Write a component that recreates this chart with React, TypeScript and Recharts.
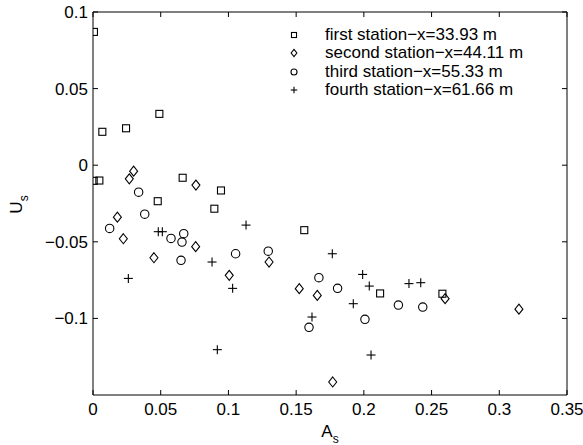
import React from 'react';
import { ScatterChart, Scatter, XAxis, YAxis, Legend, Label } from 'recharts';

const FONT = '"Liberation Sans", Arial, Helvetica, sans-serif';

const xTicks = [0, 0.05, 0.1, 0.15, 0.2, 0.25, 0.3, 0.35];
const yTicks = [-0.1, -0.05, 0, 0.05, 0.1];
const xTickLabels = ['0', '0.05', '0.1', '0.15', '0.2', '0.25', '0.3', '0.35'];
const yTickLabels = ['\u22120.1', '\u22120.05', '0', '0.05', '0.1'];

const seriesNames = [
  'first station\u2212x=33.93 m',
  'second station\u2212x=44.11 m',
  'third station\u2212x=55.33 m',
  'fourth station\u2212x=61.66 m',
];

const firstX = [0.0007, 0.0005, 0.0047, 0.0069, 0.0244, 0.049, 0.0662, 0.0478, 0.0945, 0.0896, 0.156, 0.212, 0.258];
const firstY = [0.087, -0.0102, -0.01, 0.0218, 0.0241, 0.0335, -0.0082, -0.0235, -0.0165, -0.0284, -0.0424, -0.0837, -0.0839];

const secondX = [0.03, 0.0268, 0.076, 0.018, 0.0224, 0.045, 0.0758, 0.1006, 0.13, 0.1523, 0.1656, 0.177, 0.26, 0.3145];
const secondY = [-0.0039, -0.0089, -0.013, -0.0339, -0.048, -0.0604, -0.0532, -0.0719, -0.0632, -0.0806, -0.085, -0.1415, -0.0871, -0.094];

const thirdX = [0.0337, 0.0382, 0.0123, 0.0576, 0.067, 0.0657, 0.065, 0.1053, 0.1294, 0.1668, 0.1806, 0.2008, 0.1595, 0.2255, 0.2435];
const thirdY = [-0.0176, -0.032, -0.0413, -0.0478, -0.0447, -0.0502, -0.0621, -0.0578, -0.0561, -0.0734, -0.0804, -0.1006, -0.1058, -0.0913, -0.0926];

const fourthX = [0.0482, 0.0512, 0.0879, 0.0261, 0.1031, 0.0918, 0.113, 0.1767, 0.1991, 0.204, 0.1922, 0.1617, 0.2053, 0.2333, 0.242];
const fourthY = [-0.0434, -0.0434, -0.0632, -0.0739, -0.0804, -0.1204, -0.0391, -0.0578, -0.0713, -0.0789, -0.0904, -0.0991, -0.1239, -0.0773, -0.0767];

const toPoints = (xs: number[], ys: number[]) => xs.map((x, i) => ({ x, y: ys[i] }));

type Kind = 'square' | 'diamond' | 'circle' | 'plus';
const kinds: Kind[] = ['square', 'diamond', 'circle', 'plus'];

const Marker = ({ cx, cy, kind, s = 1 }: { cx: number; cy: number; kind: Kind; s?: number }) => {
  const st = { stroke: '#000', strokeWidth: 1.1, fill: 'none' };
  if (kind === 'square') {
    const h = 3.5 * s;
    return <rect x={cx - h} y={cy - h} width={2 * h} height={2 * h} {...st} />;
  }
  if (kind === 'diamond') {
    const w = 4 * s;
    const hh = 5 * s;
    return <polygon points={`${cx},${cy - hh} ${cx + w},${cy} ${cx},${cy + hh} ${cx - w},${cy}`} {...st} />;
  }
  if (kind === 'circle') {
    return <circle cx={cx} cy={cy} r={4.2 * s} {...st} />;
  }
  const a = 4.5 * s;
  return (
    <g {...st}>
      <line x1={cx - a} y1={cy} x2={cx + a} y2={cy} />
      <line x1={cx} y1={cy - a} x2={cx} y2={cy + a} />
    </g>
  );
};

const makeShape = (kind: Kind) => (props: any) => <Marker cx={props.cx} cy={props.cy} kind={kind} />;

const BottomTick = (props: any) => {
  const { x, y, payload } = props;
  const idx = xTicks.indexOf(payload.value);
  return (
    <g>
      <line x1={x} y1={y} x2={x} y2={y - 5} stroke="#000" strokeWidth={1} />
      <text x={x} y={y + 20} textAnchor="middle" fontSize={17} fontFamily={FONT} fill="#000">
        {idx >= 0 ? xTickLabels[idx] : String(payload.value)}
      </text>
    </g>
  );
};

const TopTick = (props: any) => {
  const { x, y } = props;
  return <line x1={x} y1={y} x2={x} y2={y + 5} stroke="#000" strokeWidth={1} />;
};

const LeftTick = (props: any) => {
  const { x, y, payload } = props;
  const idx = yTicks.indexOf(payload.value);
  return (
    <g>
      <line x1={x} y1={y} x2={x + 5} y2={y} stroke="#000" strokeWidth={1} />
      <text x={x - 5} y={y} dy="0.35em" textAnchor="end" fontSize={17} fontFamily={FONT} fill="#000">
        {idx >= 0 ? yTickLabels[idx] : String(payload.value)}
      </text>
    </g>
  );
};

const RightTick = (props: any) => {
  const { x, y } = props;
  return <line x1={x} y1={y} x2={x - 5} y2={y} stroke="#000" strokeWidth={1} />;
};

const XLabel = (props: any) => {
  const vb = props.viewBox || { x: 93, y: 395, width: 474 };
  const cx = vb.x + vb.width / 2;
  const y = vb.y + 42;
  return (
    <text x={cx} y={y} textAnchor="middle" fontSize={17} fontFamily={FONT} fill="#000">
      A<tspan dy={6} fontSize={12}>s</tspan>
    </text>
  );
};

const YLabel = (props: any) => {
  const vb = props.viewBox || { x: 0, y: 12, width: 93, height: 383 };
  const cx = 22;
  const cy = vb.y + vb.height / 2 + 1;
  return (
    <text x={cx} y={cy} transform={`rotate(-90 ${cx} ${cy})`} textAnchor="middle" fontSize={17} fontFamily={FONT} fill="#000">
      U<tspan dy={6} fontSize={12}>s</tspan>
    </text>
  );
};

const LegendContent = () => (
  <div style={{ fontFamily: FONT, fontSize: 17, color: '#000' }}>
    {seriesNames.map((name, i) => (
      <div key={name} style={{ display: 'flex', alignItems: 'center', height: 18.3 }}>
        <svg width={18} height={18} style={{ flex: 'none' }}>
          <Marker cx={9} cy={9} kind={kinds[i]} s={0.72} />
        </svg>
        <span style={{ marginLeft: 22, whiteSpace: 'nowrap', lineHeight: '18px' }}>{name}</span>
      </div>
    ))}
  </div>
);

const seriesData = [
  toPoints(firstX, firstY),
  toPoints(secondX, secondY),
  toPoints(thirdX, thirdY),
  toPoints(fourthX, fourthY),
];

export default function App() {
  return (
    <div style={{ position: 'absolute', left: 0, top: 0, background: '#fff' }}>
      <ScatterChart width={583} height={445} margin={{ top: 0, right: 0, bottom: 0, left: 0 }}>
        <XAxis
          xAxisId="b"
          type="number"
          dataKey="x"
          domain={[0, 0.35]}
          ticks={xTicks}
          orientation="bottom"
          height={50}
          tickSize={0}
          tickMargin={0}
          tick={<BottomTick />}
          axisLine={{ stroke: '#000', strokeWidth: 1 }}
          tickLine={false}
          allowDataOverflow
        >
          <Label content={<XLabel />} />
        </XAxis>
        <XAxis
          xAxisId="t"
          type="number"
          dataKey="x"
          domain={[0, 0.35]}
          ticks={xTicks}
          orientation="top"
          height={12}
          tickSize={0}
          tickMargin={0}
          tick={<TopTick />}
          axisLine={{ stroke: '#000', strokeWidth: 1 }}
          tickLine={false}
          allowDataOverflow
        />
        <YAxis
          yAxisId="l"
          type="number"
          dataKey="y"
          domain={[-0.15, 0.1]}
          ticks={yTicks}
          orientation="left"
          width={93}
          tickSize={0}
          tickMargin={0}
          tick={<LeftTick />}
          axisLine={{ stroke: '#000', strokeWidth: 1 }}
          tickLine={false}
          allowDataOverflow
        >
          <Label content={<YLabel />} />
        </YAxis>
        <YAxis
          yAxisId="r"
          type="number"
          dataKey="y"
          domain={[-0.15, 0.1]}
          ticks={yTicks}
          orientation="right"
          width={16}
          tickSize={0}
          tickMargin={0}
          tick={<RightTick />}
          axisLine={{ stroke: '#000', strokeWidth: 1 }}
          tickLine={false}
          allowDataOverflow
        />
        {seriesData.map((pts, i) => (
          <Scatter
            key={seriesNames[i]}
            name={seriesNames[i]}
            data={pts}
            xAxisId="b"
            yAxisId="l"
            shape={makeShape(kinds[i])}
            isAnimationActive={false}
          />
        ))}
        <Legend
          layout="vertical"
          align="center"
          verticalAlign="middle"
          content={<LegendContent />}
          wrapperStyle={{ left: 285, top: 26, width: 290 }}
        />
      </ScatterChart>
    </div>
  );
}
